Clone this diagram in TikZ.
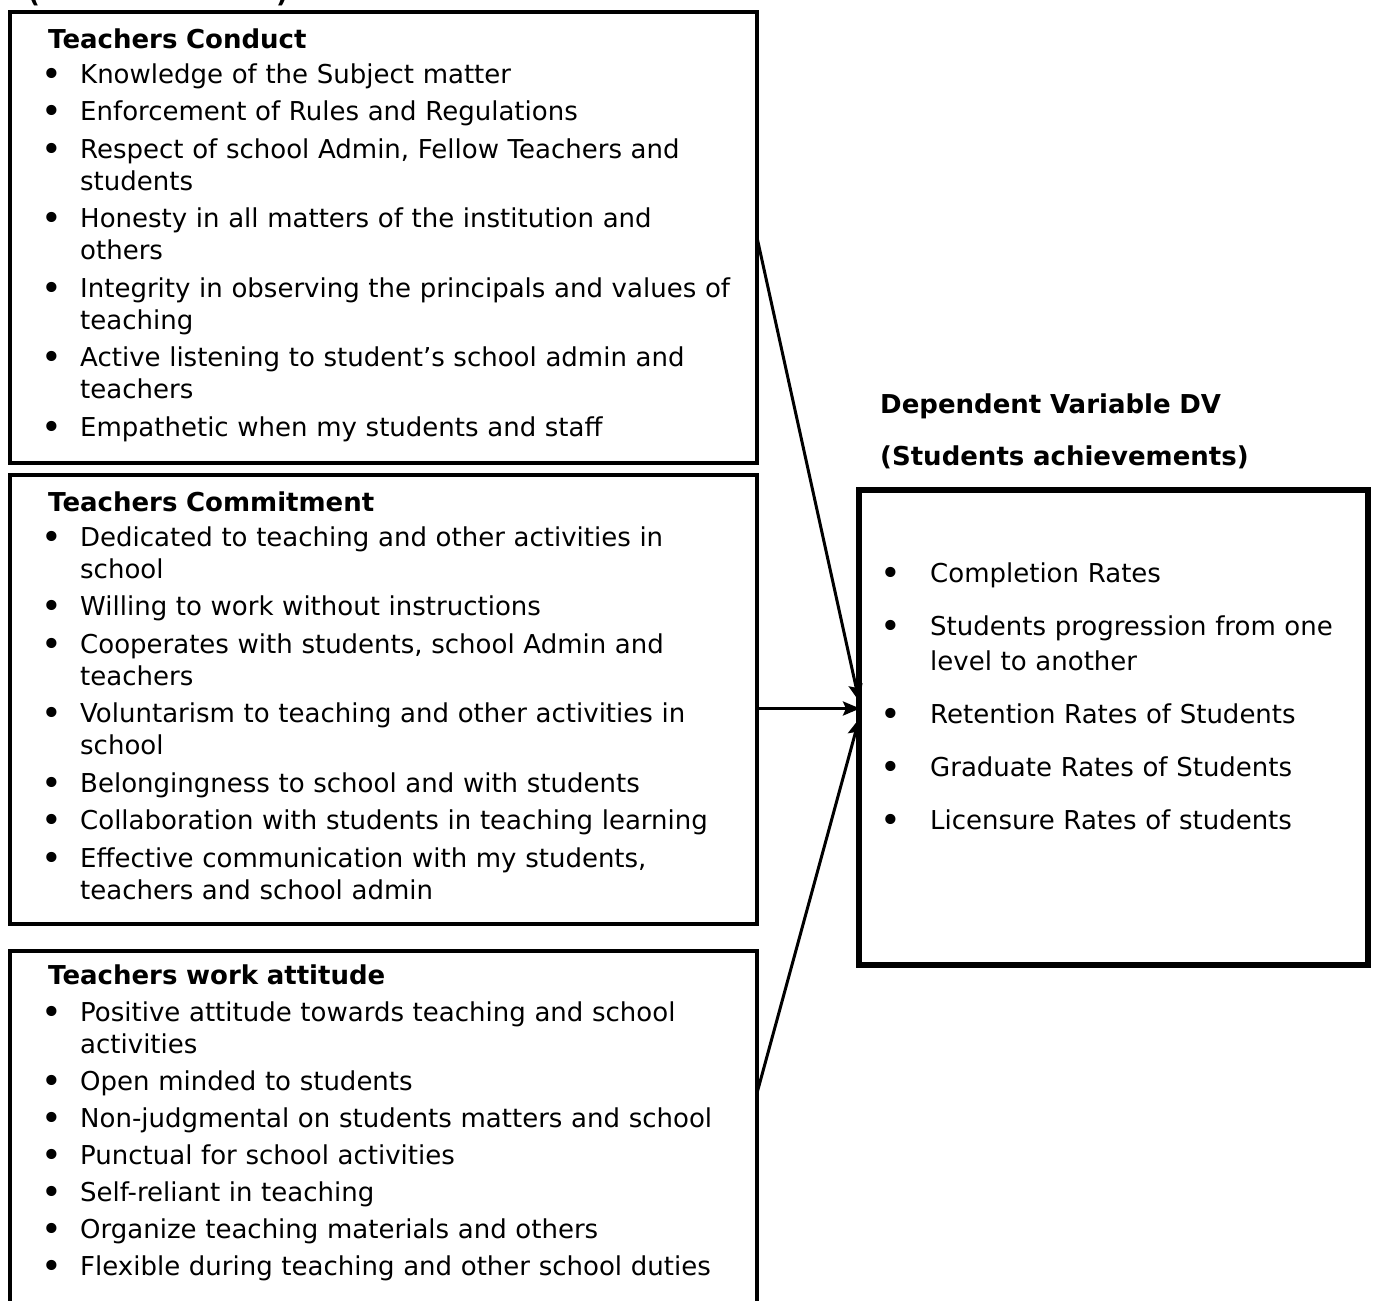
\documentclass[tikz,border=0pt]{standalone}
\usepackage{fontspec}
\setmainfont{DejaVu Sans}
\usetikzlibrary{arrows.meta,calc}
\newcommand\bigbul{\raisebox{-3pt}{\scalebox{1.35}{\textbullet}}}
\newcommand\bt{\makebox[38pt][l]{\hspace{-1pt}\bigbul}}
\newcommand\ct{\hspace*{38pt}}
\newcommand\dbt{\makebox[50pt][l]{\bigbul}}
\begin{document}
\begin{tikzpicture}[x=1pt,y=-1pt,
  ivbox/.style={draw, line width=4pt, inner sep=0pt, outer sep=0pt, anchor=north west, minimum width=747pt},
  dvbox/.style={draw, line width=6pt, inner sep=0pt, outer sep=0pt, anchor=north west},
  txt/.style={inner sep=0pt, anchor=north west, align=left, text width=720pt, font=\fontsize{26}{32}\selectfont},
  arr/.style={line width=3pt, -{Stealth[length=17pt,width=14pt,inset=3pt]}, shorten >=-1pt}
]
\useasboundingbox (0,0) rectangle (1374,1301);
\clip (0,0) rectangle (1374,1301);

% partly cut-off heading
\node[anchor=base west, inner sep=0pt, font=\fontsize{26}{34}\selectfont\bfseries] (ivtitle) at (28,2) {(\hspace{236pt})};

% boxes
\node[ivbox, minimum height=451pt] (c1) at (10,12) {};
\node[ivbox, minimum height=449pt] (c2) at (10,475) {};
\node[ivbox, minimum height=379pt] (c3) at (10,951) {};
\node[dvbox, minimum width=509pt, minimum height=475pt] (dv) at (859,490) {};

% texts
\node[txt] (t1) at (42,26) {\strut\hspace*{6pt}\textbf{Teachers Conduct}\\[2.5pt]
\bt Knowledge of the Subject matter\\[5.5pt]
\bt Enforcement of Rules and Regulations\\[5.5pt]
\bt Respect of school Admin, Fellow Teachers and\\
\ct students\\[5.5pt]
\bt Honesty in all matters of the institution and\\
\ct others\\[5.5pt]
\bt Integrity in observing the principals and values of\\
\ct teaching\\[5.5pt]
\bt Active listening to student’s school admin and\\
\ct teachers\\[5.5pt]
\bt Empathetic when my students and staff};

\node[txt] (t2) at (42,489) {\strut\hspace*{6pt}\textbf{Teachers Commitment}\\[2.5pt]
\bt Dedicated to teaching and other activities in\\
\ct school\\[5.5pt]
\bt Willing to work without instructions\\[5.5pt]
\bt Cooperates with students, school Admin and\\
\ct teachers\\[5.5pt]
\bt Voluntarism to teaching and other activities in\\
\ct school\\[5.5pt]
\bt Belongingness to school and with students\\[5.5pt]
\bt Collaboration with students in teaching learning\\[5.5pt]
\bt Effective communication with my students,\\
\ct teachers and school admin};

\node[txt] (t3) at (42,962) {\strut\hspace*{6pt}\textbf{Teachers work attitude}\\[5pt]
\bt Positive attitude towards teaching and school\\
\ct activities\\[5pt]
\bt Open minded to students\\[5pt]
\bt Non-judgmental on students matters and school\\[5pt]
\bt Punctual for school activities\\[5pt]
\bt Self-reliant in teaching\\[5pt]
\bt Organize teaching materials and others\\[5pt]
\bt Flexible during teaching and other school duties};

\node[txt, text width=480pt, font=\fontsize{26}{52}\selectfont\bfseries] (dvtitle) at (880,377) {\strut Dependent Variable DV\\
(Students achievements)};

\node[txt, text width=480pt, font=\fontsize{26}{35}\selectfont] (dvlist) at (880,558) {\strut\dbt Completion Rates\\[18pt]
\dbt Students progression from one\\
\hspace*{50pt}level to another\\[18pt]
\dbt Retention Rates of Students\\[18pt]
\dbt Graduate Rates of Students\\[18pt]
\dbt Licensure Rates of students};

% connectors
\coordinate (s1) at (c1.east);
\coordinate (e1) at ($(dv.west)+(0,-27)$);
\coordinate (s2) at ($(c2.east)+(0,9)$);
\coordinate (e2) at (dv.west |- s2);
\coordinate (s3) at (c3.east |- 0,1093);
\coordinate (e3) at ($(dv.west)+(0,-8)$);
\draw[arr] (s1) -- (e1);
\draw[arr] (s2) -- (e2);
\draw[arr] (s3) -- (e3);
\end{tikzpicture}
\end{document}
